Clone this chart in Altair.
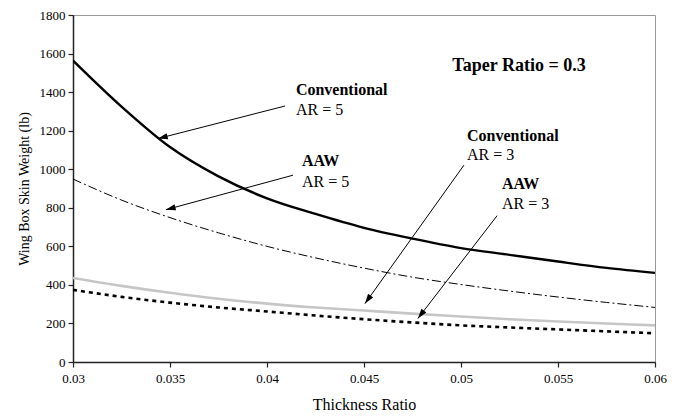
import math
import altair as alt
import pandas as pd

# ---- data ----
thickness = [0.03, 0.0325, 0.035, 0.0375, 0.04, 0.0425, 0.045, 0.0475, 0.05, 0.0525, 0.055, 0.0575, 0.06]
conv_ar5 = [1564, 1325, 1115, 963, 849, 768, 696, 640, 591, 556, 521, 488, 462]
aaw_ar5 = [949, 840, 749, 670, 600, 540, 487, 440, 402, 368, 337, 309, 283]
conv_ar3 = [436, 395, 359, 328, 303, 283, 267, 251, 236, 222, 210, 200, 190]
aaw_ar3 = [374, 338, 308, 283, 262, 241, 222, 205, 190, 179, 169, 159, 149]

x_ticks = [0.03, 0.035, 0.04, 0.045, 0.05, 0.055, 0.06]
y_ticks = [0, 200, 400, 600, 800, 1000, 1200, 1400, 1600, 1800]

# annotation labels (data coordinates)
label_bold = ["Conventional", "AAW", "Conventional", "AAW"]
label_plain = ["AR = 5", "AR = 5", "AR = 3", "AR = 3"]
label_x = [0.04149, 0.04180, 0.05031, 0.05211]
label_y_bold = [1410, 1041, 1174, 923]
label_y_plain = [1308, 933, 1072, 821]

# arrows: start (x, y) -> tip (x2, y2)
arrow_x = [0.04093, 0.04134, 0.05015, 0.05186]
arrow_y = [1328, 969, 1021, 759]
arrow_x2 = [0.03438, 0.03479, 0.04505, 0.04778]
arrow_y2 = [1159, 790, 303, 226]

W, H = 582, 347
XMIN, XMAX, YMIN, YMAX = 0.03, 0.06, 0, 1800
FONT = "Liberation Serif"

series = [
    ("Conventional AR = 3", conv_ar3, "#c6c6c6", 2.6, None),
    ("AAW AR = 3", aaw_ar3, "black", 2.6, [4, 4]),
    ("AAW AR = 5", aaw_ar5, "black", 1.0, [9, 3, 2, 3]),
    ("Conventional AR = 5", conv_ar5, "black", 2.4, None),
]

xs = alt.Scale(domain=[XMIN, XMAX], nice=False, zero=False)
ys = alt.Scale(domain=[YMIN, YMAX], nice=False)

x_axis = alt.Axis(values=x_ticks, format=".3~f", title="Thickness Ratio", grid=False,
                  tickSize=5, labelPadding=5, titlePadding=11, labelFlush=False)
y_axis = alt.Axis(values=y_ticks, format="d", title="Wing Box Skin Weight (lb)", grid=False,
                  tickSize=5, labelPadding=3, titlePadding=8)


def X(field):
    return alt.X(field, scale=xs, axis=x_axis, title="Thickness Ratio")


def Y(field):
    return alt.Y(field, scale=ys, axis=y_axis, title="Wing Box Skin Weight (lb)")


layers = []
for name, vals, color, width, dash in series:
    df = pd.DataFrame({"t": thickness, "w": vals, "s": name})
    kw = dict(color=color, strokeWidth=width, clip=True, interpolate="monotone")
    if dash:
        kw["strokeDash"] = dash
    layers.append(alt.Chart(df).mark_line(**kw).encode(x=X("t:Q"), y=Y("w:Q")))

# arrows
adf = pd.DataFrame({"x": arrow_x, "y": arrow_y, "x2": arrow_x2, "y2": arrow_y2})
angles = []
for a, b, c, d in zip(arrow_x, arrow_y, arrow_x2, arrow_y2):
    dx = (c - a) / (XMAX - XMIN) * W
    dy = -(d - b) / (YMAX - YMIN) * H
    angles.append(math.degrees(math.atan2(dx, -dy)) % 360)
adf["angle"] = angles

arrow_lines = alt.Chart(adf).mark_rule(color="black", strokeWidth=1).encode(
    x=X("x:Q"), y=Y("y:Q"), x2="x2:Q", y2="y2:Q")
arrow_heads = alt.Chart(adf).mark_point(
    shape="M0,0L-0.32,1L0.32,1Z", filled=True, color="black", opacity=1, size=380, strokeWidth=0
).encode(x=X("x2:Q"), y=Y("y2:Q"), angle=alt.Angle("angle:Q", scale=None))

ldf = pd.DataFrame({"x": label_x, "yb": label_y_bold, "yp": label_y_plain,
                    "bold": label_bold, "plain": label_plain})
bold_text = alt.Chart(ldf).mark_text(font=FONT, fontSize=16, fontWeight="bold", align="left",
                                     baseline="middle", color="black").encode(
    x=X("x:Q"), y=Y("yb:Q"), text="bold:N")
plain_text = alt.Chart(ldf).mark_text(font=FONT, fontSize=16, align="left",
                                      baseline="middle", color="black").encode(
    x=X("x:Q"), y=Y("yp:Q"), text="plain:N")

tdf = pd.DataFrame({"x": [0.05299], "y": [1538], "txt": ["Taper Ratio = 0.3"]})
taper = alt.Chart(tdf).mark_text(font=FONT, fontSize=18, fontWeight="bold", align="center",
                                 baseline="middle", color="black").encode(
    x=X("x:Q"), y=Y("y:Q"), text="txt:N")

chart = alt.layer(*layers, arrow_lines, arrow_heads, bold_text, plain_text, taper).properties(
    width=W, height=H,
    autosize=alt.AutoSizeParams(type="none"),
    padding={"left": 65, "top": 7, "right": 19, "bottom": 49},
    background="white",
).configure_view(
    stroke="#9a9a9a", strokeWidth=1
).configure_axis(
    domainColor="#222", domainWidth=1.5, tickColor="#222", tickWidth=1.2,
    labelFont=FONT, labelFontSize=13, labelColor="black",
    titleFont=FONT, titleFontWeight="normal", titleColor="black",
).configure_axisX(titleFontSize=16).configure_axisY(titleFontSize=14)

chart.save("out.html", embed_options={"renderer": "svg", "actions": False})
